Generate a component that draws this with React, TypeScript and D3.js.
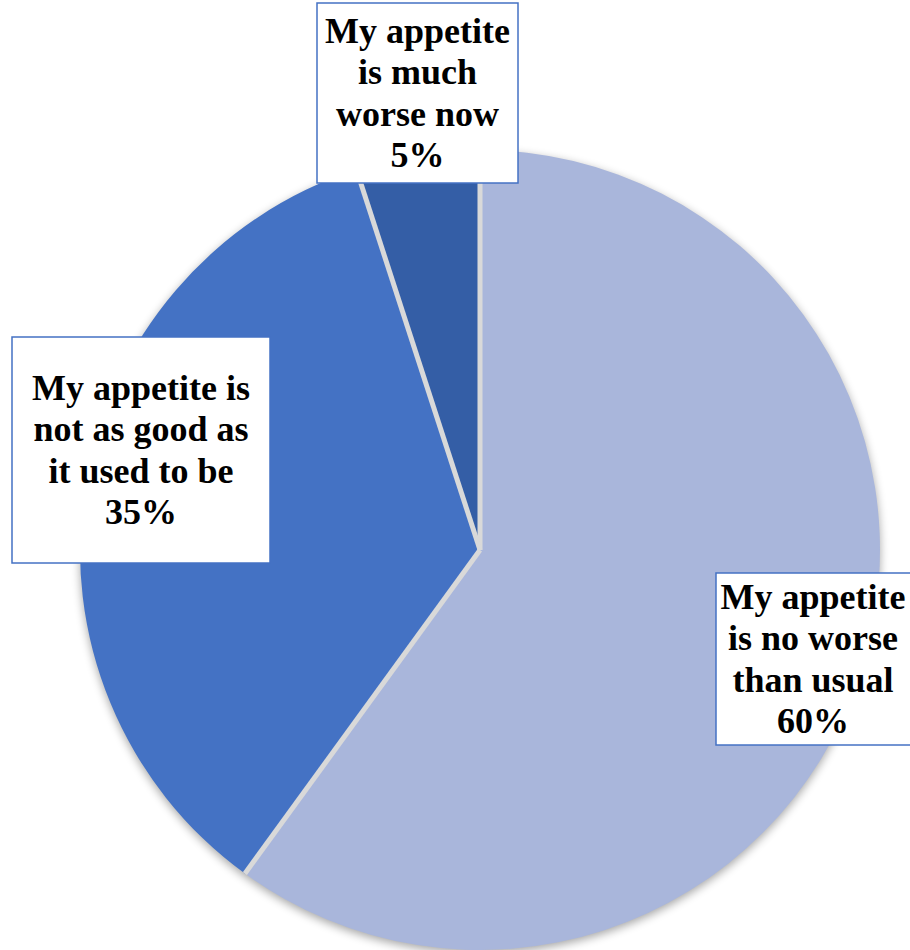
import React from "react";
import * as d3 from "d3";

const categories = [
  "My appetite is no worse than usual",
  "My appetite is not as good as it used to be",
  "My appetite is much worse now",
];
const values = [60, 35, 5];
const labelLines = [
  ["My appetite", "is no worse", "than usual", "60%"],
  ["My appetite is", "not as good as", "it used to be", "35%"],
  ["My appetite", "is much", "worse now", "5%"],
];
const colors = ["#A9B6DB", "#4472C4", "#345EA6"];

const W = 910;
const H = 950;
const cx = 480;
const cy = 550;
const R = 400;

// label boxes: [x, y, w, h]
const boxes = [
  [716, 573, 200, 172],
  [12, 337, 258, 226],
  [317, 3, 201, 180],
];

export default function App() {
  const pie = d3.pie<number>().sort(null).value((d) => d);
  const arcs = pie(values);
  const arc = d3.arc<d3.PieArcDatum<number>>().innerRadius(0).outerRadius(R);
  const lh = 41.5;
  return (
    <svg
      width={W}
      height={H}
      style={{ position: "absolute", left: 0, top: 0, fontFamily: "'Liberation Serif', 'Times New Roman', serif" }}
    >
      <defs>
        <filter id="sh" x="-10%" y="-10%" width="120%" height="120%">
          <feGaussianBlur stdDeviation="5" />
        </filter>
        <clipPath id="pc">
          <circle r={R} />
        </clipPath>
      </defs>
      <rect width={W} height={H} fill="#fff" />
      <g transform={`translate(${cx},${cy})`}>
        <circle r={R} cy={3} fill="#000" opacity={0.35} filter="url(#sh)" />
        {arcs.map((a, i) => (
          <path key={categories[i]} d={arc(a) || ""} fill={colors[i]} />
        ))}
        <g clipPath="url(#pc)">
          {arcs.map((a, i) => {
            const ang = a.startAngle;
            return (
              <line
                key={"l" + i}
                x1={0}
                y1={0}
                x2={Math.sin(ang) * (R + 10)}
                y2={-Math.cos(ang) * (R + 10)}
                stroke="#D9D9D9"
                strokeWidth={5}
              />
            );
          })}
        </g>
      </g>
      {boxes.map((b, i) => {
        const [x, y, w, h] = b;
        const lines = labelLines[i];
        const total = lh * (lines.length - 1);
        const midY = y + h / 2;
        return (
          <g key={i}>
            <rect x={x} y={y} width={w} height={h} fill="#fff" stroke="#4472C4" strokeWidth={1.5} />
            {lines.map((ln, j) => (
              <text
                key={j}
                x={i === 0 ? 813 : x + w / 2}
                y={midY - total / 2 + j * lh + 12}
                textAnchor="middle"
                fontSize={36}
                fontWeight="bold"
                fill="#000"
              >
                {ln}
              </text>
            ))}
          </g>
        );
      })}
    </svg>
  );
}
